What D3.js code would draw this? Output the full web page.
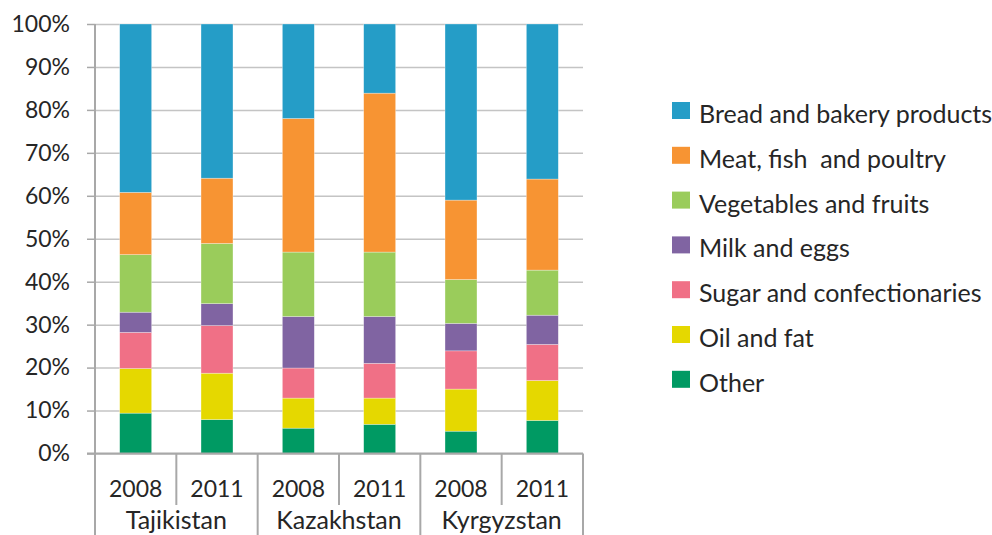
<!DOCTYPE html>
<html>
<head>
<meta charset="utf-8">
<script src="https://cdn.jsdelivr.net/npm/d3@7"></script>
<style>
  html, body { margin: 0; padding: 0; background: #fff; }
  svg { display: block; }
  text { font-family: Lato, "Open Sans", sans-serif; fill: #262626; }
</style>
</head>
<body>
<svg id="chart" width="992" height="535"></svg>
<script>
// Food expenditure structure (% of total), by country and year
const countries = ["Tajikistan", "Kazakhstan", "Kyrgyzstan"];
const years = ["2008", "2011"];

// one value per bar: Taj 2008, Taj 2011, Kaz 2008, Kaz 2011, Kyr 2008, Kyr 2011
const other  = [9.4, 7.9, 5.9, 6.8, 5.2, 7.7];
const oilFat = [10.4, 10.8, 7.0, 6.1, 9.8, 9.3];
const sugar  = [8.4, 11.1, 7.0, 8.1, 8.9, 8.4];
const milk   = [4.7, 5.1, 12.0, 10.9, 6.4, 6.8];
const veg    = [13.4, 14.0, 15.0, 15.0, 10.2, 10.5];
const meat   = [14.5, 15.2, 31.1, 37.0, 18.5, 21.2];
const bread  = [39.2, 35.9, 22.0, 16.1, 41.0, 36.1];

const yTicks = [0, 10, 20, 30, 40, 50, 60, 70, 80, 90, 100];

// series from bottom of the stack to the top
const series = [
  { key: "Other", values: other, color: "#009a63" },
  { key: "Oil and fat", values: oilFat, color: "#e5d800" },
  { key: "Sugar and confectionaries", values: sugar, color: "#f07086" },
  { key: "Milk and eggs", values: milk, color: "#8064a2" },
  { key: "Vegetables and fruits", values: veg, color: "#9acc5b" },
  { key: "Meat, fish  and poultry", values: meat, color: "#f79433" },
  { key: "Bread and bakery products", values: bread, color: "#259dc7" }
];

const bars = [];
countries.forEach(c => years.forEach(yr => bars.push({ country: c, year: yr })));
const rows = bars.map((b, i) => {
  const r = { id: i, country: b.country, year: b.year };
  series.forEach(s => { r[s.key] = s.values[i]; });
  return r;
});

const svg = d3.select("#chart");
const plotLeft = 95, plotRight = 583, plotTop = 24, plotBottom = 453.5;

const x = d3.scaleBand()
  .domain(rows.map(r => r.id))
  .range([plotLeft, plotRight])
  .paddingInner(0.607)
  .paddingOuter(0.3035);

const y = d3.scaleLinear().domain([0, 100]).range([plotBottom, plotTop]);

// horizontal gridlines
svg.append("g")
  .attr("transform", `translate(${plotLeft},0)`)
  .call(d3.axisLeft(y).tickValues(yTicks).tickSize(-(plotRight - plotLeft)).tickFormat(""))
  .call(g => g.select(".domain").remove())
  .call(g => g.selectAll(".tick line").attr("stroke", "#c4c4c4").attr("stroke-width", 1.5));

// stacked bars
const stacked = d3.stack().keys(series.map(s => s.key))(rows);
const colorOf = d3.scaleOrdinal().domain(series.map(s => s.key)).range(series.map(s => s.color));

svg.append("g")
  .selectAll("g")
  .data(stacked)
  .join("g")
  .attr("fill", d => colorOf(d.key))
  .selectAll("rect")
  .data(d => d)
  .join("rect")
  .attr("x", d => x(d.data.id))
  .attr("width", x.bandwidth())
  .attr("y", d => y(d[1]))
  .attr("height", d => y(d[0]) - y(d[1]))
  .attr("stroke", "#ffffff")
  .attr("stroke-opacity", 0.5)
  .attr("stroke-width", 0.6);

// y axis with percent labels
svg.append("g")
  .attr("transform", `translate(${plotLeft},0)`)
  .call(d3.axisLeft(y).tickValues(yTicks).tickSize(8).tickPadding(17).tickFormat(d => d + "%"))
  .call(g => g.select(".domain").remove())
  .call(g => g.selectAll(".tick line").attr("stroke", "#a8a8a8").attr("stroke-width", 1.5))
  .call(g => g.selectAll(".tick text")
    .attr("font-size", 23)
    .attr("font-family", "Lato, 'Open Sans', sans-serif")
    .attr("fill", "#262626"));

const axisColor = "#a8a8a8";
const step = x.step();

// left axis line, running down through the category labels
svg.append("line")
  .attr("x1", plotLeft).attr("x2", plotLeft)
  .attr("y1", plotTop).attr("y2", 535)
  .attr("stroke", axisColor).attr("stroke-width", 2);

// baseline at 0%
svg.append("line")
  .attr("x1", plotLeft - 8).attr("x2", plotRight)
  .attr("y1", y(0)).attr("y2", y(0))
  .attr("stroke", axisColor).attr("stroke-width", 2);

// separators between bars (short) and between countries (long)
const sep = svg.append("g").attr("stroke", axisColor).attr("stroke-width", 2);
for (let i = 1; i <= rows.length; i++) {
  const xs = plotLeft + i * step;
  const isGroup = i % years.length === 0;
  sep.append("line")
    .attr("x1", xs).attr("x2", xs)
    .attr("y1", y(0)).attr("y2", isGroup ? 535 : 505);
}

// year labels
svg.append("g")
  .selectAll("text")
  .data(rows)
  .join("text")
  .attr("x", d => x(d.id) + x.bandwidth() / 2)
  .attr("y", 497)
  .attr("text-anchor", "middle")
  .attr("font-size", 23)
  .text(d => d.year);

// country labels
svg.append("g")
  .selectAll("text")
  .data(countries)
  .join("text")
  .attr("x", (d, i) => plotLeft + step * years.length * (i + 0.5))
  .attr("y", 529)
  .attr("text-anchor", "middle")
  .attr("font-size", 25)
  .text(d => d);

// legend, top entry = top of the stack
const legendItems = series.slice().reverse();
const legend = svg.append("g");
legendItems.forEach((s, i) => {
  const yy = 102 + i * 44.8;
  legend.append("rect")
    .attr("x", 672).attr("y", yy)
    .attr("width", 18).attr("height", 17)
    .attr("fill", s.color);
  legend.append("text")
    .attr("x", 699).attr("y", yy + 21)
    .attr("font-size", 25)
    .attr("xml:space", "preserve")
    .style("white-space", "pre")
    .text(s.key);
});
</script>
</body>
</html>
